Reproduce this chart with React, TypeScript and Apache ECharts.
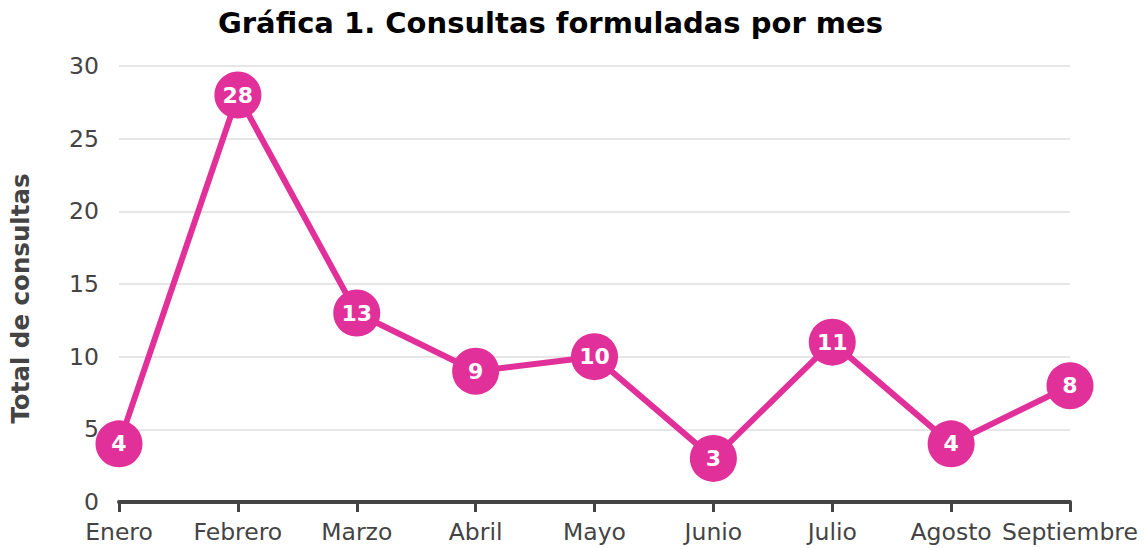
import React, { useEffect, useRef } from "react";
import * as echarts from "echarts";

const months = ["Enero", "Febrero", "Marzo", "Abril", "Mayo", "Junio", "Julio", "Agosto", "Septiembre"];
const consultas = [4, 28, 13, 9, 10, 3, 11, 4, 8];
const yTicks = { min: 0, max: 30, interval: 5 };
const titleText = "Gráfica 1. Consultas formuladas por mes";
const yName = "Total de consultas";

const PINK = "#e2309a";
const FONT = "DejaVu Sans";

export default function App() {
  const ref = useRef<HTMLDivElement>(null);
  useEffect(() => {
    if (!ref.current) return;
    const chart = echarts.init(ref.current, null, { renderer: "svg" });
    chart.setOption({
      animation: false,
      backgroundColor: "#ffffff",
      textStyle: { fontFamily: FONT },
      title: {
        text: titleText,
        left: 218,
        top: 8,
        padding: 0,
        textStyle: { fontFamily: FONT, fontWeight: "bold", fontSize: 29, color: "#000" },
      },
      grid: { left: 117, right: 76, top: 66, bottom: 46, containLabel: false },
      xAxis: {
        type: "category",
        data: months,
        boundaryGap: false,
        axisLine: { show: true, lineStyle: { color: "#444", width: 4 } },
        axisTick: { show: true, alignWithLabel: true, length: 10, lineStyle: { color: "#444", width: 3 } },
        axisLabel: { color: "#444", fontSize: 23.5, fontFamily: FONT, margin: 18, interval: 0 },
        splitLine: { show: false },
      },
      yAxis: {
        type: "value",
        min: yTicks.min,
        max: yTicks.max,
        interval: yTicks.interval,
        name: yName,
        nameLocation: "middle",
        nameGap: 86,
        nameRotate: 90,
        nameTextStyle: {
          fontFamily: FONT,
          fontWeight: "bold",
          fontSize: 24.5,
          color: "#444",
          padding: [0, 29, 0, 0],
        },
        axisLine: { show: false },
        axisTick: { show: false },
        axisLabel: { color: "#444", fontSize: 23.5, fontFamily: FONT, margin: 20 },
        splitLine: { show: true, lineStyle: { color: "#e6e6e6", width: 2 } },
      },
      series: [
        {
          type: "line",
          data: consultas,
          symbol: "circle",
          symbolSize: 47,
          lineStyle: { color: PINK, width: 6 },
          itemStyle: { color: PINK },
          label: {
            show: true,
            position: "inside",
            color: "#fff",
            fontWeight: "bold",
            fontSize: 22,
            fontFamily: FONT,
          },
          z: 3,
        },
      ],
    });
    return () => chart.dispose();
  }, []);
  return (
    <div
      ref={ref}
      style={{ position: "fixed", left: 0, top: 0, width: 1146, height: 548, background: "#fff" }}
    />
  );
}
